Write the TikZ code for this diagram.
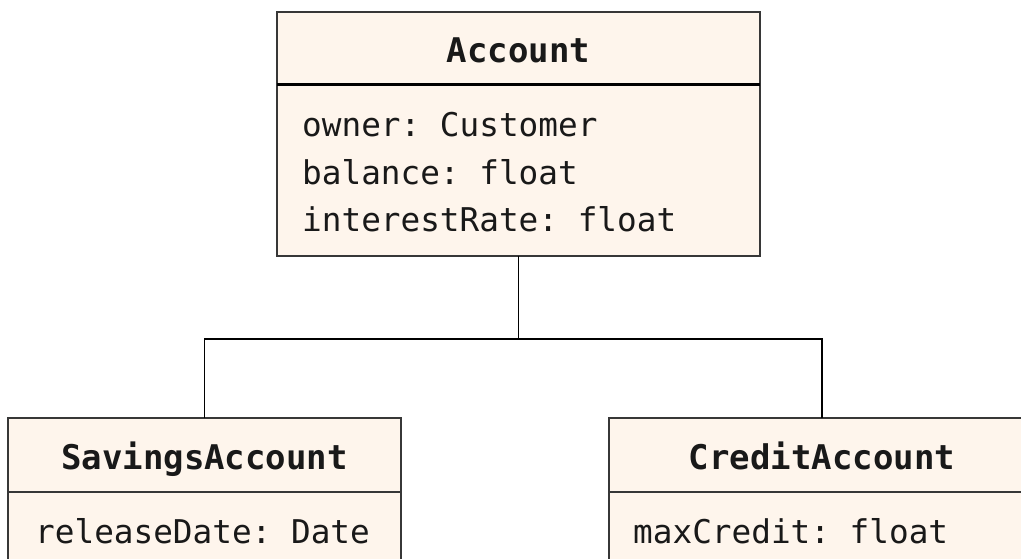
\documentclass[tikz,border=0pt]{standalone}
\usepackage{fontspec}
\setmonofont{DejaVu Sans Mono}
\usetikzlibrary{positioning}

\definecolor{classfill}{RGB}{254,245,236}
\definecolor{classline}{RGB}{55,55,55}
\definecolor{classtext}{RGB}{25,25,25}

\tikzset{
  classhead/.style={draw=classline, fill=classfill, line width=2pt, inner sep=0pt, outer sep=0pt, text=classtext,
    font=\ttfamily\bfseries\fontsize{34}{40}\selectfont, text height=30pt, text depth=1pt},
  classbody/.style={draw=classline, fill=classfill, line width=2pt, inner sep=0pt, outer sep=0pt},
  attr/.style={anchor=base west, inner sep=0pt, text=classtext, font=\ttfamily\fontsize{32.7}{40}\selectfont},
  link/.style={draw=black, line width=1.6pt}
}

\begin{document}
\begin{tikzpicture}[x=1pt, y=-1pt]
    \path[use as bounding box, clip] (0,0) rectangle (1021,559);

    % Account
    \node[classhead, anchor=north west, minimum width=483pt, minimum height=73pt] (acchead) at (277,12) {Account};
    \node[classbody, below=0pt of acchead, minimum width=483pt, minimum height=171pt] (accbody) {};
    \draw[black, line width=3pt] (acchead.south west) -- (acchead.south east);
    \node[attr] (owner) at (302,137) {owner: Customer};
    \node[attr] (balance) at (302,185) {balance: float};
    \node[attr] (rate) at (302,232) {interestRate: float};

    % SavingsAccount
    \node[classhead, anchor=north west, minimum width=393pt, minimum height=74pt] (savhead) at (8,418) {SavingsAccount};
    \node[classbody, below=0pt of savhead, minimum width=393pt, minimum height=120pt] (savbody) {};
    \node[attr] (release) at (35,543) {releaseDate: Date};

    % CreditAccount
    \node[classhead, anchor=north west, minimum width=426pt, minimum height=74pt] (credhead) at (609,418) {CreditAccount};
    \node[classbody, below=0pt of credhead, minimum width=426pt, minimum height=120pt] (credbody) {};
    \node[attr] (maxcredit) at (633,543) {maxCredit: float};

    % inheritance
    \coordinate (split) at ([yshift=-83pt]accbody.south);
    \draw[link] (accbody.south) -- (split);
    \draw[link] (savhead.north) |- (split) -| (credhead.north);
\end{tikzpicture}
\end{document}
